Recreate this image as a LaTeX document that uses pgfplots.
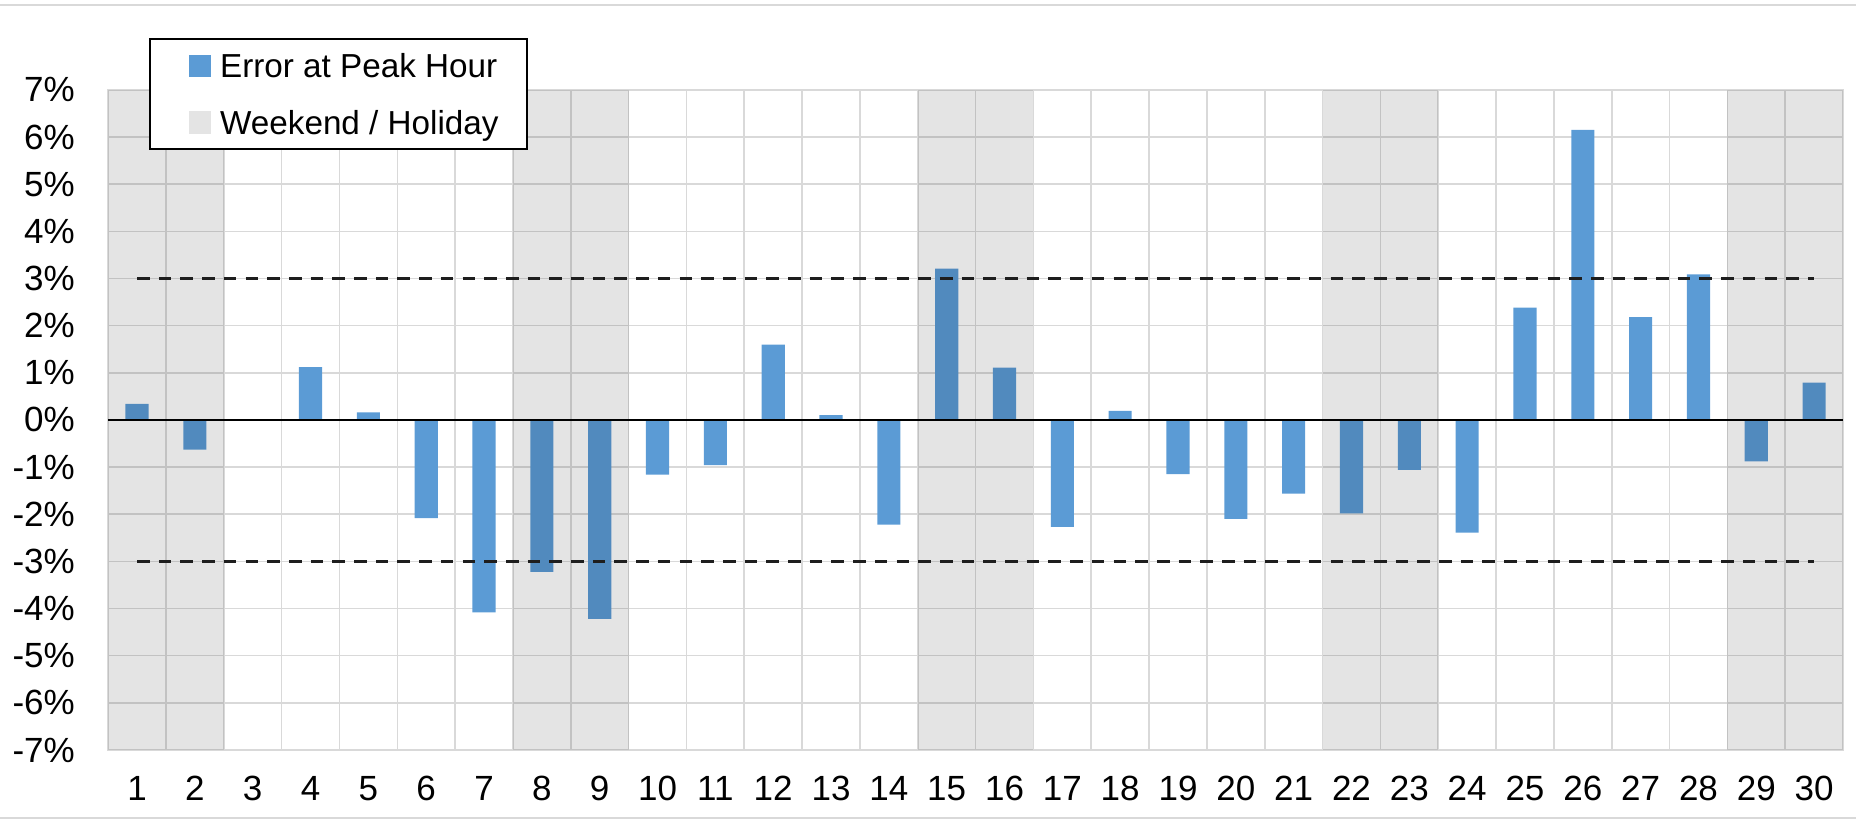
\documentclass[border=0pt]{standalone}
\usepackage{pgfplots}
\pgfplotsset{compat=1.18}
\usepackage{pgfplotstable}
\usepackage{fontspec}
\setmainfont{Liberation Sans}
\definecolor{barblue}{RGB}{91,155,213}
\definecolor{gridgray}{RGB}{217,217,217}
\definecolor{dashcol}{RGB}{30,30,30}

\pgfplotstableread{
day err
1 0.34
2 -0.63
3 0
4 1.12
5 0.16
6 -2.08
7 -4.08
8 -3.22
9 -4.22
10 -1.16
11 -0.96
12 1.60
13 0.10
14 -2.22
15 3.21
16 1.11
17 -2.27
18 0.19
19 -1.15
20 -2.10
21 -1.56
22 -1.98
23 -1.06
24 -2.39
25 2.38
26 6.15
27 2.18
28 3.09
29 -0.88
30 0.79
}\errdata

\begin{document}
\begin{tikzpicture}
\begin{axis}[
  scale only axis,
  width=495.7pt, height=188.6pt,
  xmin=0.5, xmax=30.5, ymin=-7, ymax=7,
  enlargelimits=false,
  xtick={1,...,30},
  xticklabels={1,2,3,4,5,6,7,8,9,10,11,12,13,14,15,16,17,18,19,20,21,22,23,24,25,26,27,28,29,30},
  minor xtick={0.5,1.5,...,30.5},
  ytick={-7,-6,...,7},
  yticklabels={-7\%,-6\%,-5\%,-4\%,-3\%,-2\%,-1\%,0\%,1\%,2\%,3\%,4\%,5\%,6\%,7\%},
  xminorgrids, ymajorgrids,
  major grid style={draw=gridgray, line width=0.45pt},
  minor grid style={draw=gridgray, line width=0.45pt},
  axis line style={draw=gridgray, line width=0.45pt},
  major tick length=0pt, minor tick length=0pt,
  tick label style={font=\fontsize{10}{12}\selectfont, text=black},
  yticklabel style={xshift=-6pt},
  xticklabel style={yshift=-4pt},
  legend cell align=left,
  legend style={
    at={(0,1)}, anchor=north west, xshift=11.7pt, yshift=14.8pt,
    draw=black, line width=0.6pt,
    font=\fontsize{9.5}{11}\selectfont,
    nodes={text depth=0pt},
    inner xsep=6pt, inner ysep=2.2pt, row sep=5.3pt,
  },
]
\addplot[ybar, bar width=0.4, bar shift=0pt, fill=barblue, draw=none,
  legend image code/.code={\path (-5pt,0pt) (7pt,0pt);\fill[barblue] (0pt,-3.2pt) rectangle (6.4pt,3.2pt);}]
  table[x=day, y=err] {\errdata};
\addlegendentry{Error at Peak Hour}

\addplot[fill=black, fill opacity=0.105, draw=none,
  legend image code/.code={\path (-5pt,0pt) (7pt,0pt);\fill[black, fill opacity=0.105] (0pt,-3.2pt) rectangle (6.4pt,3.2pt);}]
  coordinates {(0.5,-7) (2.5,-7) (2.5,7) (0.5,7)};
\addlegendentry{Weekend / Holiday}
\addplot[fill=black, fill opacity=0.105, draw=none, forget plot]
  coordinates {(7.5,-7) (9.5,-7) (9.5,7) (7.5,7)};
\addplot[fill=black, fill opacity=0.105, draw=none, forget plot]
  coordinates {(14.5,-7) (16.5,-7) (16.5,7) (14.5,7)};
\addplot[fill=black, fill opacity=0.105, draw=none, forget plot]
  coordinates {(21.5,-7) (23.5,-7) (23.5,7) (21.5,7)};
\addplot[fill=black, fill opacity=0.105, draw=none, forget plot]
  coordinates {(28.5,-7) (30.5,-7) (30.5,7) (28.5,7)};

\addplot[dashcol, line width=0.9pt, dash pattern=on 3.6pt off 2.6pt, forget plot]
  coordinates {(1,3) (30,3)};
\addplot[dashcol, line width=0.9pt, dash pattern=on 3.6pt off 2.6pt, forget plot]
  coordinates {(1,-3) (30,-3)};
\addplot[black, line width=0.6pt, forget plot]
  coordinates {(0.5,0) (30.5,0)};
\end{axis}
\pgfresetboundingbox
\path[use as bounding box] (-30.9pt,-20pt) rectangle (499.4pt,214.3pt);
\draw[gridgray, line width=0.5pt] (-30.9pt,212.9pt) -- (499.4pt,212.9pt);
\draw[gridgray, line width=0.5pt] (-30.9pt,-19.4pt) -- (499.4pt,-19.4pt);
\end{tikzpicture}
\end{document}
